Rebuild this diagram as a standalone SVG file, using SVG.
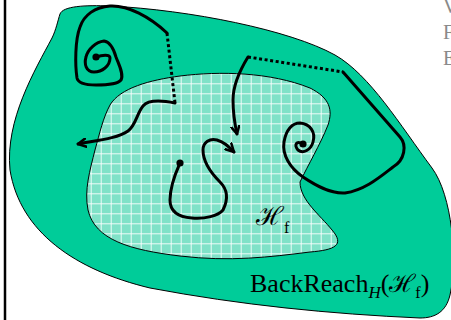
<svg xmlns="http://www.w3.org/2000/svg" width="451" height="320" viewBox="0 0 451 320">
<style>
.curve{fill:none;stroke:#000;stroke-width:3;stroke-linecap:round;stroke-linejoin:round}
.dotted{fill:none;stroke:#000;stroke-width:3;stroke-dasharray:3 2.6}
.dot{fill:#000}
.lbl{font-family:"Liberation Serif","Times New Roman",serif;fill:#000}
.scr{font-family:"DejaVu Serif",serif}
.gray{font-family:"Liberation Serif","Times New Roman",serif;fill:#8a8a8a;font-size:20px}
</style>
<defs>
<pattern id="grid" width="10" height="10" patternUnits="userSpaceOnUse" x="0.7" y="3.3">
<rect width="10" height="10" fill="#80E2C8"/>
<path d="M0,0.5H10M0.5,0V10" stroke="#ffffff" stroke-width="1" stroke-opacity="0.85"/>
</pattern>
<marker id="arr" viewBox="0 0 10 10" refX="8.5" refY="5" markerWidth="10" markerHeight="10" markerUnits="userSpaceOnUse" orient="auto">
<path d="M0.5,0.8 L8.5,5 L0.5,9.2" fill="none" stroke="#000" stroke-width="2.5" stroke-linecap="round" stroke-linejoin="round"/>
</marker>
</defs>
<rect width="451" height="320" fill="#fff"/>
<line x1="5" y1="0" x2="5" y2="320" stroke="#000" stroke-width="2.5"/>
<g id="backreach">
<path d="M60,14 C63,6 85,5 110,6 C190,10 290,30 335,55 C370,75 400,125 432,168 C452,195 458,260 450,295 C446,312 435,318 420,318 C330,314 240,305 150,288 C75,270 20,232 10,170 C5,120 35,70 52,38 C56,30 58,20 60,14 Z" fill="#00CC99" stroke="#000" stroke-width="1"/>
</g>
<g id="hf">
<path d="M110,105 C120,88 150,80 180,76 C220,71 270,72 310,88 C330,98 333,110 328,125 C320,145 308,165 300,182 C300,200 320,215 332,230 C345,245 335,250 310,252 C270,257 230,262 180,256 C130,250 95,240 88,210 C84,190 90,170 95,150 C100,132 103,118 110,105 Z" fill="url(#grid)" stroke="#000" stroke-width="1"/>
</g>
<g id="connectors">
<path class="curve" d="M96,57 C102,55 110,54 110,58 C110,66 102,72 94,72 C86,72 84,64 86,57 C88,49 96,42 104,41 C110,42 114,50 116,57 C119,65 124,74 121,80 C117,85 104,85 96,85 C86,85 78,83 77,78 C75,65 75,40 80,27 C84,15 95,7 110,6 C128,5 150,17 167,33"/>
<circle class="dot" cx="96" cy="57" r="3.6"/>
<path class="dotted" d="M167,33 L175,103"/>
<path class="curve" marker-end="url(#arr)" d="M175,103 C160,100 148,100 143,106 C137,113 136,125 128,131 C118,138 100,140 78,144"/>
<path class="dotted" d="M248,57 L343,72"/>
<path class="curve" marker-end="url(#arr)" d="M248,57 C240,70 233,85 233,100 C233,115 235,125 237,134"/>
<path class="curve" d="M343,72 L400,137 C407,145 405,160 393,167 C380,177 365,190 345,193 C330,194 315,185 303,177 C290,168 282,155 284,142 C286,130 292,123 300,123 C310,124 316,132 313,142 C311,150 303,154 298,150 C294,145 296,140 303,144"/>
<circle class="dot" cx="303" cy="144" r="3.6"/>
<path class="curve" marker-end="url(#arr)" d="M180,163 C176,172 170,185 170,200 C170,212 178,217 192,218 C205,219 218,216 223,210 C228,200 228,190 220,182 C210,172 203,160 203,150 C203,142 210,138 217,140 C224,142 228,146 234,152"/>
<circle class="dot" cx="180" cy="163" r="3.6"/>
</g>
<g id="labels">
<text class="lbl" x="256" y="225" font-size="26"><tspan class="scr">ℋ</tspan><tspan font-size="16" dy="8">f</tspan></text>
<text class="lbl" x="250" y="292" font-size="26">BackReach<tspan font-size="17" font-style="italic" dy="6">H</tspan><tspan dy="-6">(</tspan><tspan class="scr" font-size="25">ℋ</tspan><tspan font-size="16" dy="6">f</tspan><tspan dy="-6">)</tspan></text>
<text class="gray" x="443" y="13">V</text>
<text class="gray" x="443" y="39">F</text>
<text class="gray" x="443" y="65">E</text>
</g>
</svg>
